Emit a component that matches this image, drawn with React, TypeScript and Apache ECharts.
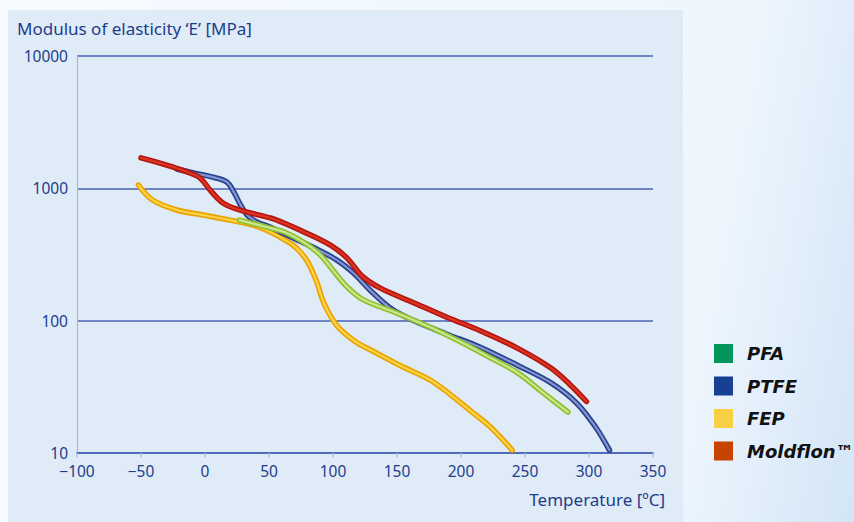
import React, { useEffect, useRef } from "react";
import * as echarts from "echarts";

const xTicks = [-100, -50, 0, 50, 100, 150, 200, 250, 300, 350];
const yTicks = [10, 100, 1000, 10000];

const legendNames = ["PFA", "PTFE", "FEP", "Moldflon™"];
const legendColors = ["#00955c", "#173f93", "#f8d044", "#c94300"];

const pfaData: [number, number][] = [
  [27, 575], [51, 501], [62, 468], [74, 408], [84, 352], [92, 300], [100, 240], [111, 180],
  [123, 145], [150, 114], [176, 89], [201, 68], [222, 53], [244, 40.5],
  [264, 28.6], [283.5, 20.4],
];
const ptfeData: [number, number][] = [
  [-22, 1400], [-9, 1306], [6, 1216], [17, 1117], [23, 920], [27, 774], [33, 628], [40, 560],
  [51, 509], [69, 421], [84, 360], [103, 287], [116, 229], [129, 170], [145, 124],
  [162, 101], [189, 79], [215, 63], [244, 46], [270, 34], [290, 24], [305, 15.8],
  [316, 10.5],
];
const fepData: [number, number][] = [
  [-52, 1059], [-41, 817], [-22, 686], [-1.5, 628], [19.5, 575], [37.5, 527], [51, 468],
  [62, 410], [72, 350], [80, 280], [87, 200], [93, 135], [103, 92], [117, 70], [131, 59],
  [152, 46], [176, 35.6], [191, 28], [207, 21], [223, 15.7], [240, 10.5],
];
const moldflonData: [number, number][] = [
  [-50, 1700], [-30, 1500], [-14, 1330], [-4, 1200], [4, 970], [14, 775], [27, 686],
  [51, 597], [62, 545], [74, 484], [98, 372], [111, 297], [123, 216], [137, 176],
  [162, 138], [189, 106], [215, 84], [244, 62], [270, 44], [285, 33], [298, 24.5],
];

const lineOuter = { PFA: "#8fbf2e", PTFE: "#27418c", FEP: "#eaa200", "Moldflon™": "#b3160e" } as Record<string, string>;
const lineInner = { PFA: "#c9e88e", PTFE: "#8595d2", FEP: "#ffd449", "Moldflon™": "#dc3424" } as Record<string, string>;

export default function App() {
  const ref = useRef<HTMLDivElement>(null);
  useEffect(() => {
    if (!ref.current) return;
    const chart = echarts.init(ref.current, undefined, { renderer: "svg" });
    const textColor = "#1e3c8c";
    const dataMap: Record<string, [number, number][]> = {
      PFA: pfaData, PTFE: ptfeData, FEP: fepData, "Moldflon™": moldflonData,
    };
    const drawOrder = ["FEP", "PTFE", "PFA", "Moldflon™"];
    const series: any[] = [];
    drawOrder.forEach((name) => {
      const idx = legendNames.indexOf(name);
      series.push({
        name,
        type: "line",
        data: dataMap[name],
        smooth: 0.35,
        showSymbol: false,
        symbol: "none",
        itemStyle: { color: legendColors[idx] },
        lineStyle: { color: lineOuter[name], width: 5.5, cap: "round", join: "round" },
        silent: true,
      });
      series.push({
        name: name + " hl",
        type: "line",
        data: dataMap[name],
        smooth: 0.35,
        showSymbol: false,
        symbol: "none",
        itemStyle: { color: lineInner[name] },
        lineStyle: { color: lineInner[name], width: 2.2, cap: "round", join: "round" },
        silent: true,
      });
    });
    chart.setOption({
      animation: false,
      grid: { left: 77, right: 201, top: 56, bottom: 69, containLabel: false },
      title: [
        {
          text: "Modulus of elasticity ‘E’ [MPa]",
          left: 17,
          top: 20,
          padding: 0,
          textStyle: { color: textColor, fontSize: 17, fontWeight: "normal", fontFamily: "Noto Sans" },
        },
        {
          text: "Temperature [ºC]",
          right: 189,
          top: 491,
          padding: 0,
          textStyle: { color: textColor, fontSize: 17, fontWeight: "normal", fontFamily: "Noto Sans" },
        },
      ],
      legend: {
        data: legendNames,
        orient: "vertical",
        left: 714,
        top: 344,
        padding: 0,
        icon: "rect",
        itemWidth: 19,
        itemHeight: 19,
        itemGap: 13.5,
        selectedMode: false,
        textStyle: {
          color: "#111111",
          fontSize: 18,
          fontStyle: "italic",
          fontWeight: "bold",
          fontFamily: "DejaVu Sans",
          padding: [0, 0, 0, 9],
        },
      },
      graphic: [
        { type: "rect", z: -10, shape: { x: 8, y: 10, width: 675, height: 512 }, style: { fill: "#dfebf7" } },
      ],
      xAxis: {
        type: "value",
        min: -100,
        max: 350,
        interval: 50,
        axisLine: { show: true, lineStyle: { color: "#4a62b5", width: 1.5 } },
        axisTick: { show: true, length: 4, lineStyle: { color: "#b4b8e6", width: 1.5 } },
        splitLine: { show: false },
        axisLabel: {
          color: textColor,
          fontSize: 15.5,
          fontFamily: "Noto Sans",
          margin: 10,
          formatter: (v: number) => (xTicks.includes(v) ? String(v).replace("-", "\u2212") : ""),
        },
      },
      yAxis: {
        type: "log",
        logBase: 10,
        min: 10,
        max: 10000,
        axisLine: { show: true, onZero: false, lineStyle: { color: "#b0b0e2", width: 1.2 } },
        axisTick: { show: false },
        splitLine: { show: true, lineStyle: { color: "#4a62b5", width: 1.5 } },
        axisLabel: {
          color: textColor,
          fontSize: 15.5,
          fontFamily: "Noto Sans",
          margin: 9,
          formatter: (v: number) => (yTicks.includes(Math.round(v)) ? String(Math.round(v)) : ""),
        },
      },
      series,
    });
    return () => chart.dispose();
  }, []);
  return (
    <div
      ref={ref}
      style={{
        position: "fixed",
        left: 0,
        top: 0,
        width: 854,
        height: 522,
        background: "linear-gradient(100deg, #f6fbff 0%, #eef6fd 80%, #d3e5f7 100%)",
      }}
    />
  );
}
